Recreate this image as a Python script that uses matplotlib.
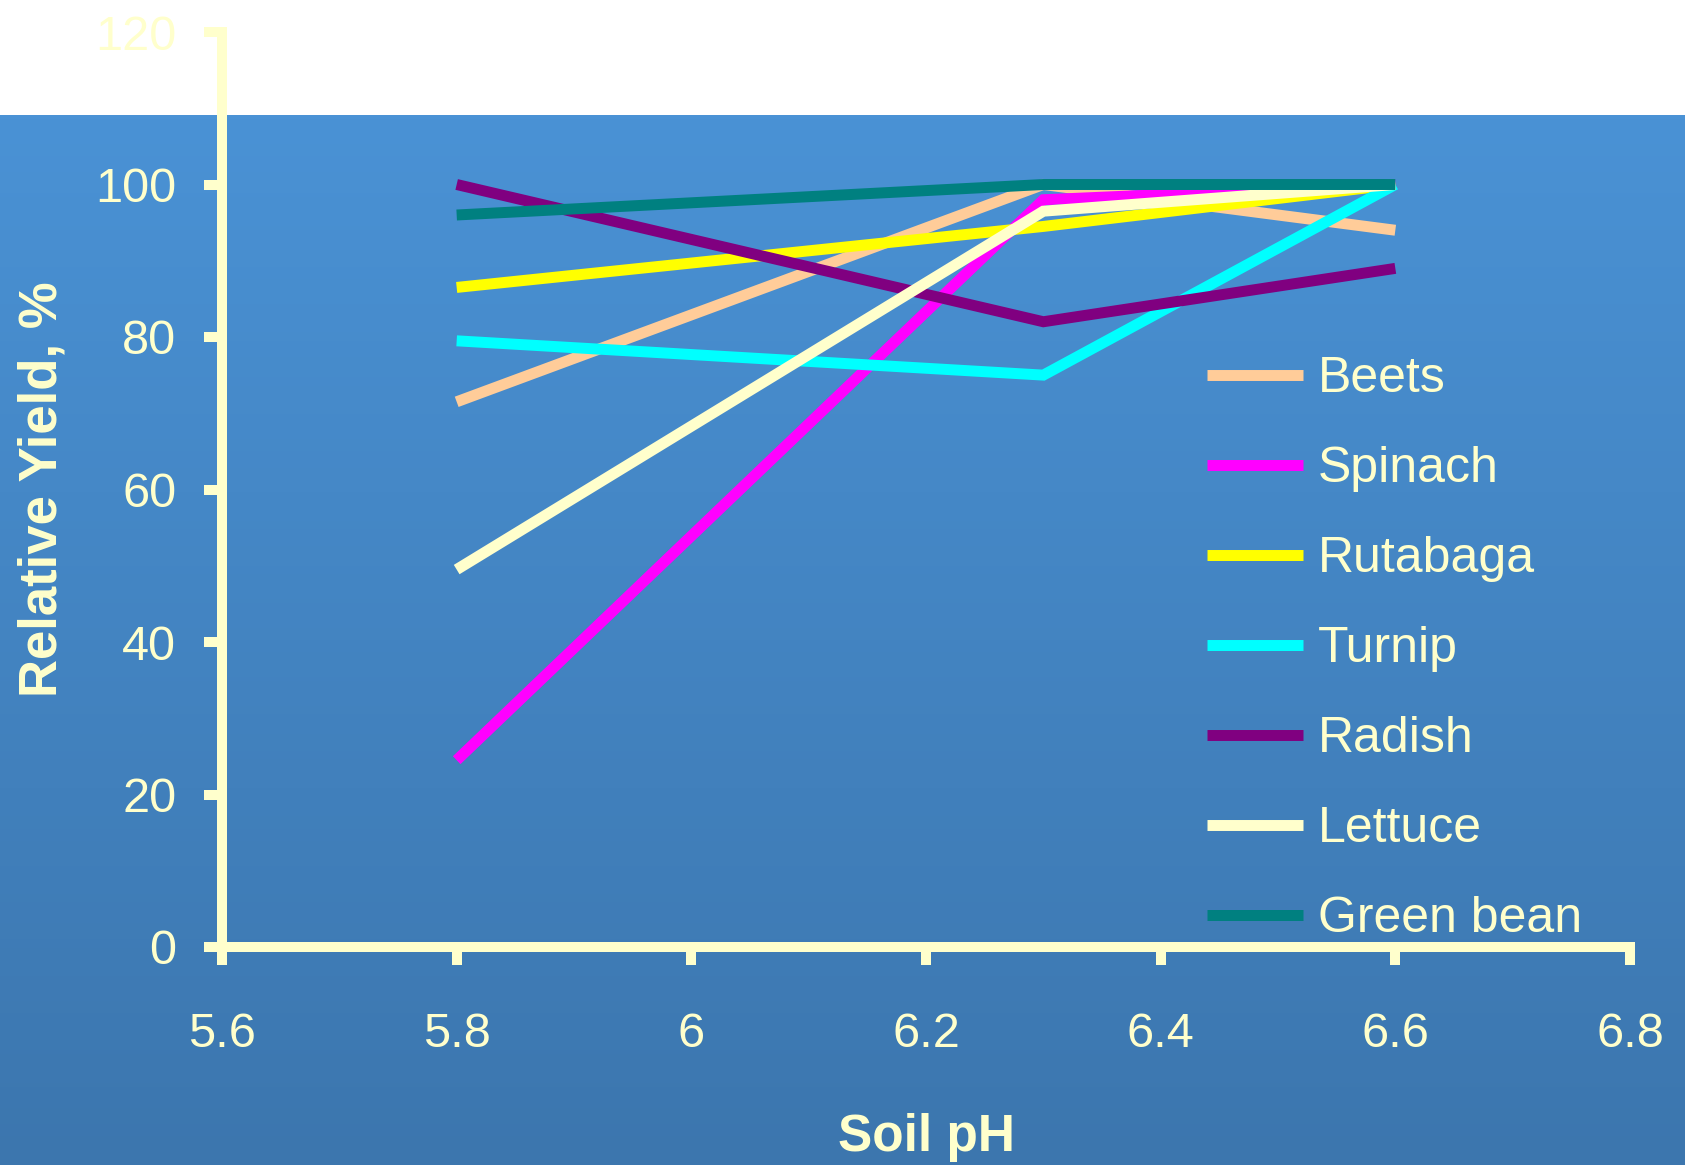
import numpy as np
import matplotlib
matplotlib.use("Agg")
import matplotlib.pyplot as plt

# -----------------------------
# DATA
# -----------------------------
soil_ph = [5.8, 6.3, 6.6]

crop_names = ["Beets", "Spinach", "Rutabaga", "Turnip", "Radish", "Lettuce", "Green bean"]
beets = [71.5, 100, 94]
spinach = [24.5, 98, 100]
rutabaga = [86.5, 94.5, 100]
turnip = [79.5, 75, 100]
radish = [100, 82, 89]
lettuce = [49.5, 96.5, 100]
green_bean = [96, 100, 100]
crop_values = [beets, spinach, rutabaga, turnip, radish, lettuce, green_bean]
crop_colors = ["#FFCC99", "#FF00FF", "#FFFF00", "#00FFFF", "#800080", "#FFFFCC", "#008080"]

x_ticks = [5.6, 5.8, 6.0, 6.2, 6.4, 6.6, 6.8]
x_tick_labels = ["5.6", "5.8", "6", "6.2", "6.4", "6.6", "6.8"]
y_ticks = [0, 20, 40, 60, 80, 100, 120]

# -----------------------------
# FIGURE + BACKGROUND
# -----------------------------
plt.rcParams["font.family"] = ["Liberation Sans", "DejaVu Sans"]
text_color = "#FFFFCC"

fig = plt.figure(figsize=(16.85, 11.65), dpi=100)
fig.patch.set_facecolor("white")

# blue gradient below a white strip at the top
bg_axis = fig.add_axes([0, 0, 1, 1], zorder=0)
gradient = np.linspace(0, 1, 256).reshape(-1, 1)
top_rgb = np.array([0x4A, 0x92, 0xD5]) / 255
bottom_rgb = np.array([0x3C, 0x76, 0xAE]) / 255
gradient_img = top_rgb + (bottom_rgb - top_rgb) * gradient[:, :, None]
white_band = 115 / 1165
bg_axis.imshow(gradient_img, aspect="auto", extent=[0, 1, 0, 1 - white_band], origin="upper")
bg_axis.set_xlim(0, 1)
bg_axis.set_ylim(0, 1)
bg_axis.axis("off")

# -----------------------------
# MAIN PLOT
# -----------------------------
axis_handle = fig.add_axes([222 / 1685, 218 / 1165, 1408 / 1685, 915 / 1165], zorder=1)
axis_handle.patch.set_alpha(0)

for name, values, color in zip(crop_names, crop_values, crop_colors):
    axis_handle.plot(soil_ph, values, color=color, linewidth=7.9, label=name,
                     solid_capstyle="butt", solid_joinstyle="miter")

axis_handle.set_xlim(5.6, 6.8)
axis_handle.set_ylim(0, 120)
axis_handle.set_xticks(x_ticks)
axis_handle.set_xticklabels(x_tick_labels)
axis_handle.set_yticks(y_ticks)

for side in ["top", "right"]:
    axis_handle.spines[side].set_visible(False)
for side in ["left", "bottom"]:
    axis_handle.spines[side].set_color(text_color)
    axis_handle.spines[side].set_linewidth(7.2)
    axis_handle.spines[side].set_capstyle("projecting")

axis_handle.tick_params(axis="both", colors=text_color, width=7.2, length=13,
                        labelsize=35, labelcolor=text_color)
axis_handle.tick_params(axis="x", pad=34)
axis_handle.tick_params(axis="y", pad=20)

axis_handle.set_xlabel("Soil pH", fontsize=37, fontweight="bold", color=text_color, labelpad=40)
axis_handle.set_ylabel("Relative Yield, %", fontsize=38, fontweight="bold", color=text_color,
                       labelpad=20)

legend_handle = axis_handle.legend(loc="upper left", bbox_to_anchor=(1207 / 1685, 1 - 356 / 1165),
                                   bbox_transform=fig.transFigure, frameon=False,
                                   fontsize=36, handlelength=1.92, handletextpad=0.3,
                                   labelspacing=0.88, borderpad=0, borderaxespad=0)
for text in legend_handle.get_texts():
    text.set_color(text_color)

fig.savefig("out.png", dpi=100)
